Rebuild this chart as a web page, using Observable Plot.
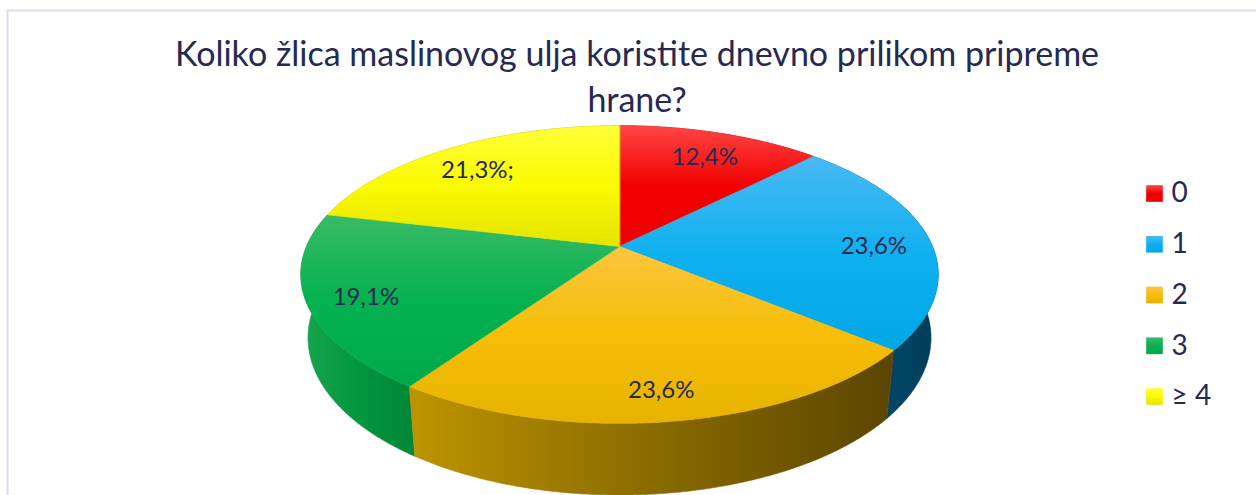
<!DOCTYPE html>
<html><head><meta charset="utf-8">
<script src="https://cdn.jsdelivr.net/npm/d3@7"></script>
<script src="https://cdn.jsdelivr.net/npm/@observablehq/plot@0.6"></script>
<style>body{margin:0;background:#fff;overflow:hidden}</style>
</head><body><div id="chart"></div>
<script>
// ---- data ----
const categories = ["0", "1", "2", "3", "≥ 4"];
const values = [12.4, 23.6, 23.6, 19.1, 21.3];
const valueLabels = ["12,4%", "23,6%", "23,6%", "19,1%", "21,3%;"];
const titleLines = ["Koliko žlica maslinovog ulja koristite dnevno prilikom pripreme", "hrane?"];

// ---- styles ----
const topColors = [
  ["#ff4545", "#f20000", "#f00000"],
  ["#48baf3", "#10b0ef", "#00a8e6"],
  ["#fbc63e", "#f7bd08", "#e6b300"],
  ["#3abb66", "#05b150", "#00aa4a"],
  ["#ffff3a", "#fafa00", "#e4e400"]
];
const sideColors = [
  ["#b00000", "#8a0000", "#800000"],
  ["#00587a", "#00486a", "#003d58"],
  ["#bd9400", "#8a6b00", "#5b4500"],
  ["#18a64e", "#03963f", "#008637"],
  ["#c8c800", "#a0a000", "#909000"]
];
const textColor = "#262a52";
const font = "Lato, 'Open Sans', sans-serif";

// ---- 3D projection (unit radius pie, perspective view) ----
const ALPHA = 27.3 * Math.PI / 180;
const DIST = 4.72;
const THICK = 0.229;
const sa = Math.sin(ALPHA), ca = Math.cos(ALPHA);
function project(x, y, z) {
  const depth = DIST - y * sa - z * ca;
  return {u: DIST * x / depth, v: -DIST * (y * ca - z * sa) / depth};
}
function rim(a0, a1, y, r = 1) {
  const n = Math.max(2, Math.ceil(Math.abs(a1 - a0) / (Math.PI / 360)));
  const pts = [];
  for (let k = 0; k <= n; ++k) {
    const a = a0 + (a1 - a0) * k / n;
    pts.push(project(r * Math.sin(a), y, -r * Math.cos(a)));
  }
  return pts;
}

const arcs = d3.pie().sort(null).value(d => d)(values);
const tops = arcs.map((a, i) => [project(0, 0, 0), ...rim(a.startAngle, a.endAngle, 0)]);
const sides = arcs.map((a, i) => [...rim(a.startAngle, a.endAngle, 0), ...rim(a.endAngle, a.startAngle, -THICK)]);
// draw walls back to front
const sideOrder = d3.range(arcs.length).sort((i, j) =>
  d3.descending(Math.cos((arcs[i].startAngle + arcs[i].endAngle) / 2), Math.cos((arcs[j].startAngle + arcs[j].endAngle) / 2)));

const LABEL_R = 0.82;
const labelData = arcs.map((a, i) => {
  const m = (a.startAngle + a.endAngle) / 2;
  const p = project(LABEL_R * Math.sin(m), 0, -LABEL_R * Math.cos(m));
  return {...p, text: valueLabels[i]};
});

function gradientDefs() {
  const defs = d3.create("svg:defs");
  const add = (id, stops, horizontal) => {
    const g = defs.append("linearGradient").attr("id", id)
      .attr("x1", 0).attr("y1", 0).attr("x2", horizontal ? 1 : 0).attr("y2", horizontal ? 0 : 1);
    stops.forEach((c, j) => g.append("stop").attr("offset", j / (stops.length - 1)).attr("stop-color", c));
  };
  topColors.forEach((c, i) => add(`top${i}`, c, false));
  sideColors.forEach((c, i) => add(`side${i}`, c, true));
  return defs.node();
}

const marks = [
  gradientDefs,
  Plot.frame({stroke: "#d9dcf0", strokeWidth: 2, insetRight: -6, insetBottom: -6}),
  ...sideOrder.map(i => Plot.line(sides[i], {x: "u", y: "v", curve: "linear-closed",
    fill: `url(#side${i})`, stroke: `url(#side${i})`, strokeWidth: 0.6})),
  ...tops.map((t, i) => Plot.line(t, {x: "u", y: "v", curve: "linear-closed",
    fill: `url(#top${i})`, stroke: `url(#top${i})`, strokeWidth: 0.6})),
  Plot.text(labelData, {x: "u", y: "v", text: "text", dy: 6, fontSize: 24, fontFamily: font,
    fill: textColor, textAnchor: "middle", lineAnchor: "middle"}),
  ...titleLines.map((t, i) => Plot.text([t], {frameAnchor: "top", dx: 5, dy: 55 + i * 46,
    fontSize: 34, fontFamily: font, fill: textColor, lineAnchor: "bottom"})),
  ...categories.map((c, i) => Plot.dot([c], {frameAnchor: "top-left", dx: 1147, dy: 183 + i * 50.75,
    symbol: "square", r: 9.4, fill: `url(#top${i})`, stroke: "none"})),
  ...categories.map((c, i) => Plot.text([c], {frameAnchor: "top-left", dx: 1164, dy: 183 + i * 50.75,
    fontSize: 28, fontFamily: font, fill: textColor, textAnchor: "start", lineAnchor: "middle"}))
];

const chart = Plot.plot({
  width: 1256,
  height: 495,
  marginLeft: 7, marginTop: 10, marginRight: 0, marginBottom: 0,
  x: {domain: [-1, 1], range: [619 - 313, 619 + 313], axis: null},
  y: {domain: [-1, 1], range: [246 - 313, 246 + 313], axis: null},
  style: {background: "#fff", overflow: "hidden"},
  marks
});
document.getElementById("chart").appendChild(chart);
</script>
</body></html>
